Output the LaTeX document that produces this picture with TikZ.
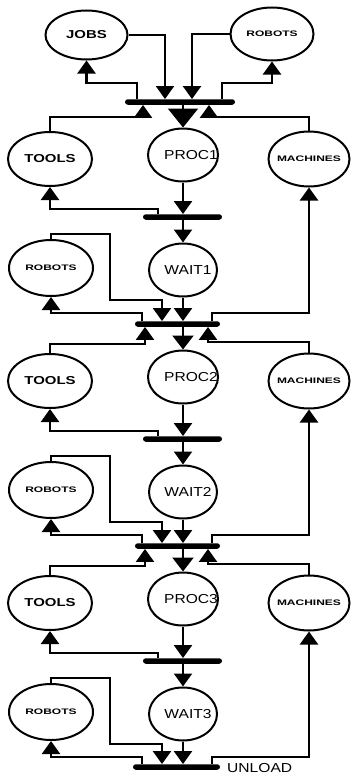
\documentclass[tikz,border=0pt]{standalone}
\usepackage{fontspec}
\usetikzlibrary{shapes.geometric,arrows.meta}
\newfontfamily\procfont[FakeStretch=1.2]{Liberation Sans}
\newfontfamily\resfont[FakeStretch=1.3]{Liberation Sans}
\newfontfamily\smresfont[FakeStretch=1.5]{Liberation Sans}
\tikzset{
  place/.style={ellipse, draw, line width=2pt, inner sep=0pt},
  tokbar/.style={rectangle, fill=black, inner sep=0pt, minimum height=5.5pt, rounded corners=2.75pt},
  arr/.style={line width=2.3pt, -{Triangle[width=18pt,length=13pt]}},
  midarr/.style={line width=2.3pt, -{Triangle[width=21pt,length=14pt]}},
  bigarr/.style={line width=2.3pt, -{Triangle[width=30pt,length=19pt]}},
  biglbl/.style={font=\resfont\bfseries\fontsize{11.5}{11.5}\selectfont},
  smlbl/.style={font=\smresfont\bfseries\fontsize{8}{8}\selectfont},
  plbl/.style={font=\procfont\fontsize{13}{13}\selectfont},
}
\begin{document}
\begin{tikzpicture}[x=1pt,y=-1pt]
\useasboundingbox (0,0) rectangle (351,776);
% top
\node[place, minimum width=82, minimum height=49, label={[biglbl]center:JOBS}] (jobs) at (86.5,35) {};
\node[place, minimum width=83, minimum height=53, label={[smlbl]center:ROBOTS}] (rtop) at (272,34) {};
\node[tokbar, minimum width=110] (t0) at (180,102) {};
\draw[arr] (jobs.east) -| (165,0 |- t0.north);
\draw[arr] (rtop.west) -| (192,0 |- t0.north);
\draw[arr] (137,0 |- t0.north) -- (137,83) -| (jobs.south);
\draw[arr] (222,0 |- t0.north) -- (222,83) -| (rtop.south);
% blocks
\foreach \k in {0,1,2}{
  \pgfmathsetmacro\dy{222*\k}
  \pgfmathtruncatemacro\n{\k+1}
  \node[place, minimum width=84, minimum height=54, label={[biglbl]center:TOOLS}] (tools\k) at (50,159+\dy) {};
  \node[place, minimum width=70, minimum height=53, label={[plbl,xshift=8pt]center:PROC\n}] (p\k) at (183,155+\dy) {};
  \node[place, minimum width=81, minimum height=55, label={[smlbl]center:MACHINES}] (m\k) at (309,159+\dy) {};
  \node[tokbar, minimum width=79] (b\k) at (182.5,217+\dy) {};
  \node[place, minimum width=68, minimum height=53, label={[plbl,xshift=5pt]center:WAIT\n}] (w\k) at (183,270+\dy) {};
  \node[place, minimum width=84, minimum height=56, label={[smlbl]center:ROBOTS}] (r\k) at (51,268+\dy) {};
  \draw[arr] (p\k.south) -- (183,0 |- b\k.north);
  \draw[arr] (158,0 |- b\k.north) -- (158,209+\dy) -| (tools\k.south);
  \draw[arr] (183,0 |- b\k.south) -- (w\k.north);
}
\node[tokbar, minimum width=85] (t1) at (177.5,324) {};
\node[tokbar, minimum width=85] (t2) at (177.5,546) {};
\node[tokbar, minimum width=87] (t3) at (176.5,767) {};
\node[plbl, anchor=west, inner sep=0pt] (unload) at (227,768) {UNLOAD};
% top transition inputs from below
\draw[arr] (tools0.north) |- (143,117) -- (143,0 |- t0.south);
\draw[arr] (m0.north) |- (209,117) -- (209,0 |- t0.south);
\draw[bigarr] (183,0 |- t0.south) -- (p0.north);
% lower transitions
\foreach \k in {0,1,2}{
  \pgfmathsetmacro\dy{222*\k}
  \pgfmathtruncatemacro\n{\k+1}
  \draw[arr] (r\k.north) |- (110,234+\dy) |- (162,300+\dy) -- (162,0 |- t\n.north);
  \draw[arr] (w\k.south) -- (183,0 |- t\n.north);
  \draw[arr] (142,0 |- t\n.north) -- (142,313+\dy) -| (r\k.south);
  \draw[arr] (212,0 |- t\n.north) -- (212,313+\dy) -| (m\k.south);
}
\foreach \k in {1,2}{
  \pgfmathsetmacro\dy{222*(\k-1)}
  \draw[arr] (tools\k.north) |- (145,344+\dy) -- (145,0 |- t\k.south);
  \draw[arr] (m\k.north) |- (208,342+\dy) -- (208,0 |- t\k.south);
  \draw[midarr] (183,0 |- t\k.south) -- (p\k.north);
}
\end{tikzpicture}
\end{document}
